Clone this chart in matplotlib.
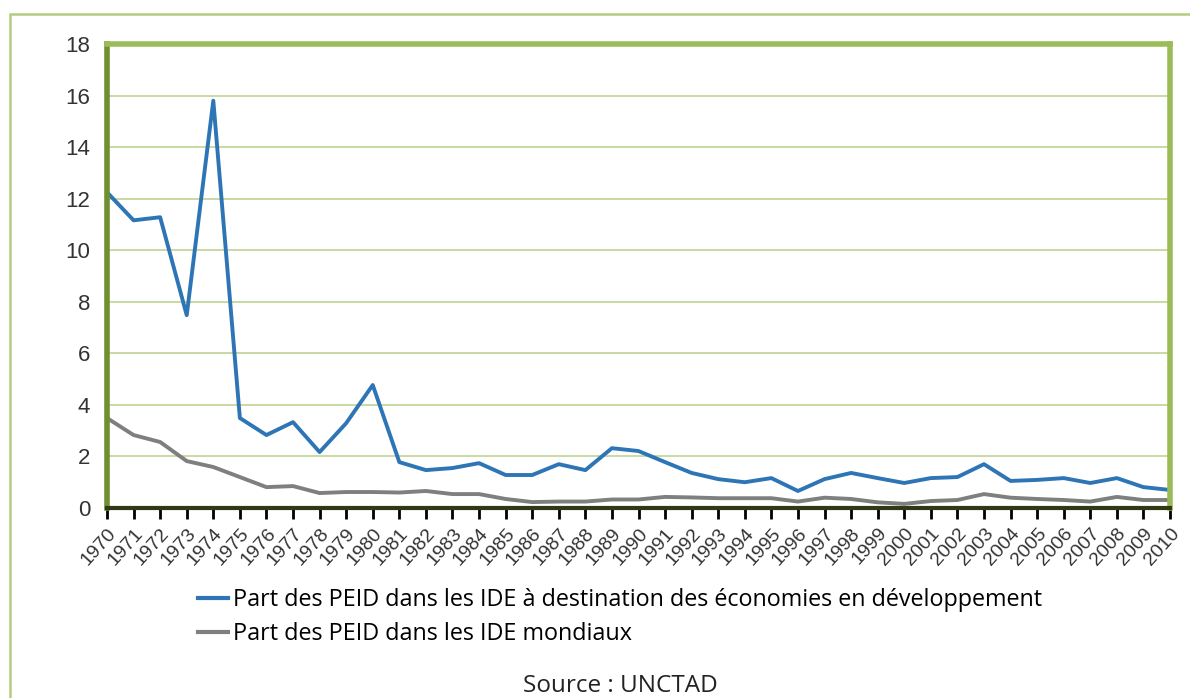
import matplotlib.pyplot as plt
from matplotlib.patches import Rectangle

years = list(range(1970, 2011))

# Part des PEID dans les IDE à destination des économies en développement
share_developing = [
    12.25, 11.16, 11.28, 7.48, 15.8, 3.49, 2.83, 3.33, 2.17, 3.29,
    4.77, 1.78, 1.47, 1.55, 1.74, 1.28, 1.28, 1.70, 1.47, 2.32,
    2.21, 1.78, 1.36, 1.12, 1.00, 1.16, 0.66, 1.12, 1.36, 1.16,
    0.97, 1.16, 1.20, 1.70, 1.05, 1.09, 1.16, 0.97, 1.16, 0.81,
    0.70,
]
# Part des PEID dans les IDE mondiaux
share_world = [
    3.49, 2.83, 2.56, 1.82, 1.59, 1.20, 0.81, 0.85, 0.58, 0.62,
    0.62, 0.60, 0.66, 0.54, 0.54, 0.35, 0.23, 0.25, 0.25, 0.33,
    0.33, 0.43, 0.41, 0.38, 0.38, 0.38, 0.25, 0.40, 0.35, 0.22,
    0.16, 0.27, 0.31, 0.54, 0.40, 0.35, 0.31, 0.25, 0.43, 0.31,
    0.31,
]
y_ticks = list(range(0, 19, 2))
labels = [
    "Part des PEID dans les IDE à destination des économies en développement",
    "Part des PEID dans les IDE mondiaux",
]

plt.rcParams['font.family'] = ['Liberation Sans', 'DejaVu Sans']

fig = plt.figure(figsize=(11.9, 6.98), dpi=100)
ax = fig.add_axes([107 / 1190, 1 - 508 / 698, (1170 - 107) / 1190, (508 - 44) / 698])

# outer frame of the chart
fig.patches.append(Rectangle((10 / 1190, -0.1), 1.2, 1 - 14 / 698 + 0.1,
                             transform=fig.transFigure, fill=False,
                             edgecolor='#b3cc80', linewidth=1.8, zorder=0))

ax.plot(years, share_developing, color='#2e75b6', linewidth=2.8, label=labels[0],
        solid_joinstyle='round')
ax.plot(years, share_world, color='#7f7f7f', linewidth=2.8, label=labels[1],
        solid_joinstyle='round')

ax.set_xlim(1970, 2010)
ax.set_ylim(0, 18)
ax.set_yticks(y_ticks)
ax.set_xticks(years)
ax.set_xticklabels([str(y) for y in years], rotation=48, ha='right',
                   rotation_mode='anchor', fontsize=14, color='#333333')
ax.tick_params(axis='y', length=0, pad=12, labelsize=16, labelcolor='#333333')
ax.tick_params(axis='x', length=8, width=2, direction='out', color='black', pad=4)

ax.grid(axis='y', color='#c4d79b', linewidth=1.3)
ax.set_axisbelow(True)

ax.spines['left'].set_color('#6f8f30')
ax.spines['left'].set_linewidth(4)
ax.spines['bottom'].set_color('#2f3a14')
ax.spines['bottom'].set_linewidth(3)
ax.spines['top'].set_color('#9bbb59')
ax.spines['top'].set_linewidth(4)
ax.spines['right'].set_color('#9bbb59')
ax.spines['right'].set_linewidth(4)

leg = fig.legend(loc='center left', bbox_to_anchor=(198 / 1190, 1 - 617 / 698),
                 frameon=False, prop={'family': 'Open Sans', 'size': 16.8},
                 handlelength=1.3, handletextpad=0.2, labelspacing=0.4,
                 borderpad=0, borderaxespad=0)
for line in leg.get_lines():
    line.set_linewidth(3)

fig.text(620 / 1190, 1 - 686 / 698, "Source : UNCTAD", ha='center', va='center',
         fontsize=17.5, family='Open Sans', color='#222222')

fig.savefig('out.png', dpi=100)
